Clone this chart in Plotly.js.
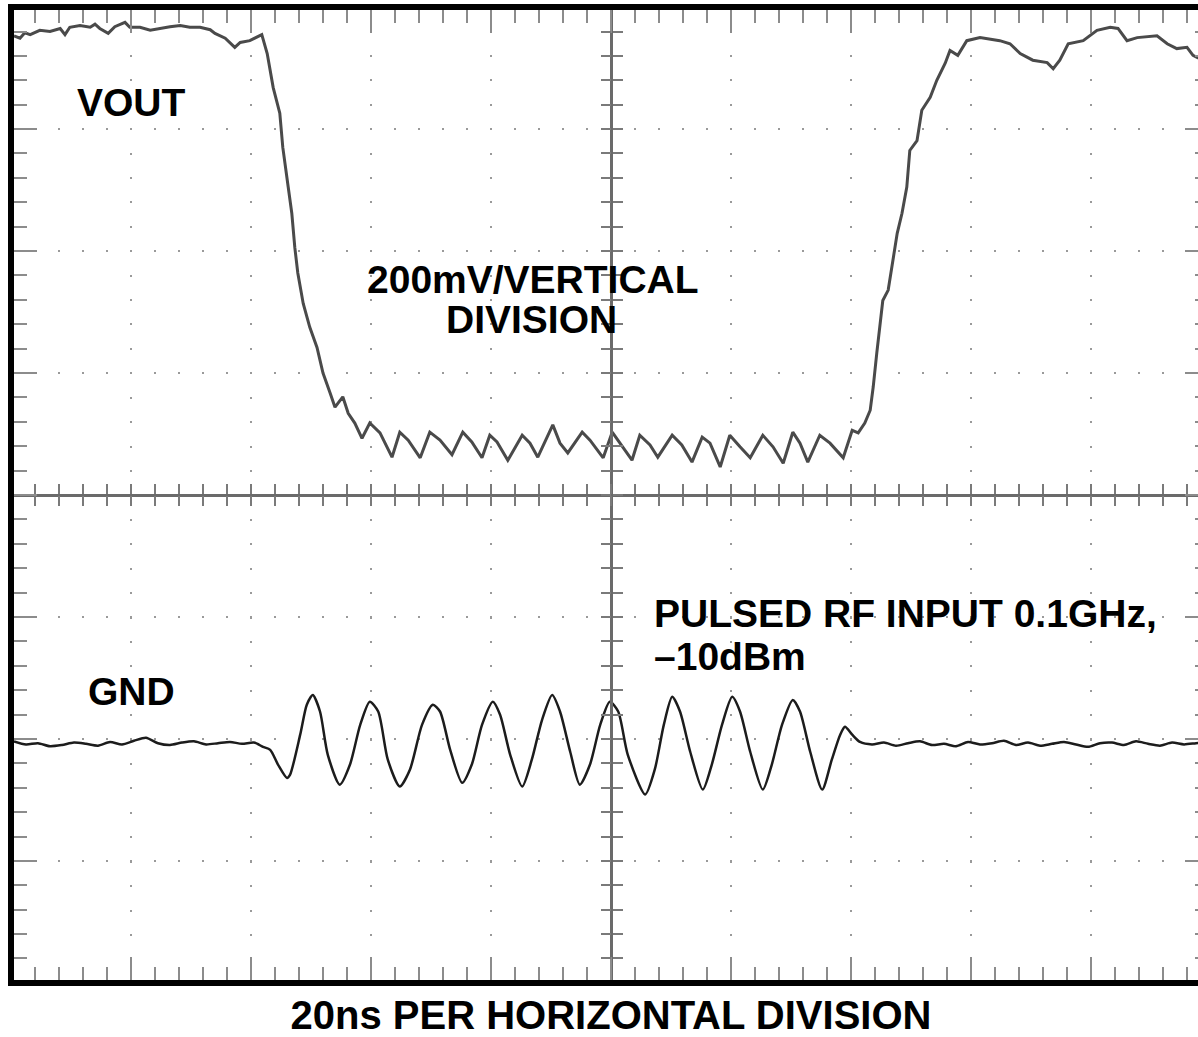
<!DOCTYPE html>
<html>
<head>
<meta charset="utf-8">
<script src="https://cdn.plot.ly/plotly-3.0.1.min.js"></script>
<style>
html, body { margin:0; padding:0; overflow:hidden; background:#fff; }
#chart { width:1215px; height:1037px; }
</style>
</head>
<body>
<div id="chart"></div>
<script>
// Time in ns (20 ns / division), voltage in mV (200 mV / division), screen centre = (0, 0)
const timeVout = [-99.5,-98.5,-97.7,-96.8,-95.2,-93.5,-91.8,-91.0,-90.2,-88.5,
  -86.8,-86.0,-85.2,-83.8,-82.7,-81.8,-81.0,-80.2,-78.5,-76.8,
  -75.2,-73.5,-71.8,-70.2,-68.5,-66.8,-66.0,-64.3,-62.7,-61.8,
  -60.2,-58.8,-58.2,-57.3,-56.3,-55.2,-54.7,-53.8,-53.2,-52.7,
  -52.2,-51.3,-50.2,-49.0,-48.0,-46.8,-46.0,-44.7,-43.8,-42.7,
  -41.5,-40.2,-38.5,-36.5,-35.2,-33.8,-31.8,-30.2,-28.5,-26.5,
  -24.7,-23.2,-21.5,-20.2,-19.0,-17.2,-14.8,-13.5,-12.2,-9.7,
  -8.5,-7.2,-4.8,-3.5,-1.3,0.2,1.5,3.5,4.8,6.5,
  7.8,10.2,11.8,13.5,15.2,16.5,18.2,19.8,21.5,23.2,
  25.3,27.0,28.7,30.3,31.5,32.8,34.8,36.5,38.7,40.2,
  41.2,42.3,43.2,43.7,44.3,44.8,45.3,46.2,47.0,47.7,
  48.5,49.3,49.8,51.0,51.8,53.2,54.3,55.7,56.5,57.8,
  59.3,61.5,64.8,66.5,68.2,70.3,72.7,73.7,74.8,76.2,
  78.7,81.0,83.2,84.5,86.0,87.7,91.0,92.7,94.3,96.0,
  97.0,97.8,99.5];
const vout = [753,749,758,755,762,760,765,755,767,770,
  767,772,765,757,768,772,775,767,767,762,
  765,768,770,767,767,763,757,749,734,742,
  745,752,755,724,668,626,570,505,462,406,
  364,314,275,242,200,167,144,161,134,118,
  93,118,102,62,103,90,61,103,90,66,
  103,87,61,98,87,57,98,85,62,115,
  85,69,103,90,61,103,85,57,98,82,
  62,98,82,54,95,85,46,98,79,61,
  98,79,52,103,85,54,98,85,61,106,
  102,118,139,177,233,275,319,336,385,429,
  462,505,565,581,631,652,680,708,729,721,
  745,750,745,740,724,713,709,699,713,740,
  745,762,767,765,745,750,753,740,732,734,
  721,717,716];

const timeRf = [-99.5,-97.5,-95.5,-93.5,-91.5,-89.5,-87.5,-85.5,-83.5,-81.5,
  -79.5,-77.5,-75.5,-73.5,-71.5,-69.5,-67.5,-65.5,-63.5,-61.5,-59.5,
  -58.0,-56.8,-55.5,-54.0,-53.5,-51.8,-50.7,-49.7,-48.5,-47.2,
  -45.2,-43.5,-41.8,-40.2,-38.8,-37.2,-35.2,-33.5,-31.5,-29.7,
  -28.5,-26.8,-24.8,-23.2,-21.5,-19.7,-18.5,-16.8,-14.8,-13.2,
  -11.5,-9.8,-8.5,-6.8,-5.2,-3.5,-1.8,-0.2,1.2,2.8,
  5.7,7.3,8.8,10.2,11.5,13.2,15.3,16.8,18.5,20.2,
  21.5,23.2,25.3,26.8,28.5,30.3,31.5,33.2,35.2,36.8,
  38.2,39.0,40.2,41.5,
  43.5,45.5,47.5,49.5,51.5,53.5,55.5,57.5,59.5,61.5,
  63.5,65.5,67.5,69.5,71.5,73.5,75.5,77.5,79.5,81.5,
  83.5,85.5,87.5,89.5,91.5,93.5,95.5,97.5,99.5];
const rfIn = [-404,-409,-407,-412,-410,-406,-408,-411,-405,-409,
  -403,-398,-407,-410,-406,-404,-409,-407,-405,-408,-406,
  -413,-418,-442,-464,-459,-393,-344,-328,-355,-426,
  -475,-442,-377,-339,-355,-434,-478,-450,-377,-344,
  -355,-418,-472,-442,-377,-339,-360,-426,-478,-434,
  -369,-328,-355,-421,-475,-442,-377,-339,-355,-426,
  -491,-450,-377,-331,-355,-421,-483,-442,-377,-331,
  -355,-421,-483,-442,-377,-336,-355,-421,-483,-434,
  -393,-380,-393,-405,
  -409,-406,-411,-407,-404,-410,-408,-412,-405,-409,
  -407,-403,-410,-406,-411,-408,-405,-409,-413,-407,
  -406,-410,-404,-408,-411,-406,-409,-407,-405];

const xRange = [-99.5, 99.5];
const yRange = [-795.3, 795.3];
const FONT = 'Liberation Sans, Arial, Helvetica, sans-serif';

const traces = [
  // empty traces that only switch on the centre-cross tick axes
  {x: [], y: [], type: 'scatter', mode: 'lines', xaxis: 'x2', yaxis: 'y2', hoverinfo: 'skip'},
  {x: [], y: [], type: 'scatter', mode: 'lines', xaxis: 'x3', yaxis: 'y3', hoverinfo: 'skip'},
  {x: timeVout, y: vout, type: 'scatter', mode: 'lines', name: 'VOUT',
   line: {color: '#4a4a4a', width: 3}, hoverinfo: 'skip'},
  {x: timeRf, y: rfIn, type: 'scatter', mode: 'lines', name: 'RF',
   line: {color: '#1c1c1c', width: 2.5, shape: 'spline', smoothing: 0.7}, hoverinfo: 'skip'}
];

const tickGrey = '#8c8c8c';
function centerAxis(extra) {
  return Object.assign({anchor: 'free', position: 0.5, showline: false, showgrid: false,
    zeroline: false, showticklabels: false, ticklen: 10, tickwidth: 2, tickcolor: '#7a7a7a',
    tick0: 0, fixedrange: true}, extra);
}

const layout = {
  width: 1215, height: 1037,
  margin: {l: 14, r: 7, t: 9.5, b: 56.5, pad: 0},
  paper_bgcolor: '#fff', plot_bgcolor: '#fff',
  showlegend: false,
  font: {family: FONT, color: '#000'},
  xaxis: {
    range: xRange, showline: true, linewidth: 6, linecolor: '#000', mirror: 'ticks',
    ticks: 'inside', ticklen: 23, tickwidth: 2, tickcolor: tickGrey, tick0: 0, dtick: 20,
    showticklabels: false, showgrid: true, gridcolor: '#9a9a9a', gridwidth: 2,
    griddash: '0px,20.42px,2px,2px',
    zeroline: false,
    minor: {ticks: 'inside', ticklen: 13, tickwidth: 2, tickcolor: tickGrey, dtick: 4, tick0: 0, showgrid: false},
    title: {text: '20ns PER HORIZONTAL DIVISION', font: {family: FONT, size: 40, weight: 'bold', color: '#000'}, standoff: 22},
    fixedrange: true
  },
  yaxis: {
    range: yRange, showline: true, linewidth: 6, linecolor: '#000', mirror: 'ticks',
    ticks: 'inside', ticklen: 23, tickwidth: 2, tickcolor: tickGrey, tick0: 0, dtick: 200,
    showticklabels: false, showgrid: true, gridcolor: '#9a9a9a', gridwidth: 2,
    griddash: '0px,20px,2px,2px',
    zeroline: false,
    minor: {ticks: 'inside', ticklen: 13, tickwidth: 2, tickcolor: tickGrey, dtick: 40, tick0: 0, showgrid: false},
    fixedrange: true
  },
  xaxis2: centerAxis({overlaying: 'x', range: xRange, ticks: 'inside', dtick: 4,
    showline: true, linewidth: 2.5, linecolor: '#6a6a6a'}),
  xaxis3: centerAxis({overlaying: 'x', range: xRange, ticks: 'outside', dtick: 4}),
  yaxis2: centerAxis({overlaying: 'y', range: yRange, ticks: 'inside', dtick: 40,
    showline: true, linewidth: 2.5, linecolor: '#6a6a6a'}),
  yaxis3: centerAxis({overlaying: 'y', range: yRange, ticks: 'outside', dtick: 40}),
  annotations: [
    {text: 'VOUT', x: -80, y: 644, xanchor: 'center', yanchor: 'middle'},
    {text: '200mV/VERTICAL', x: -13, y: 354, xanchor: 'center', yanchor: 'middle'},
    {text: 'DIVISION', x: -13.2, y: 287, xanchor: 'center', yanchor: 'middle'},
    {text: 'PULSED RF INPUT 0.1GHz,', x: 6.8, y: -195, xanchor: 'left', yanchor: 'middle'},
    {text: '–10dBm', x: 6.8, y: -265, xanchor: 'left', yanchor: 'middle'},
    {text: 'GND', x: -80, y: -323, xanchor: 'center', yanchor: 'middle'}
  ].map(a => Object.assign({xref: 'x', yref: 'y', showarrow: false,
    font: {family: FONT, size: 39, weight: 'bold', color: '#000'}}, a))
};

Plotly.newPlot('chart', traces, layout, {staticPlot: true, displayModeBar: false});
</script>
</body>
</html>
